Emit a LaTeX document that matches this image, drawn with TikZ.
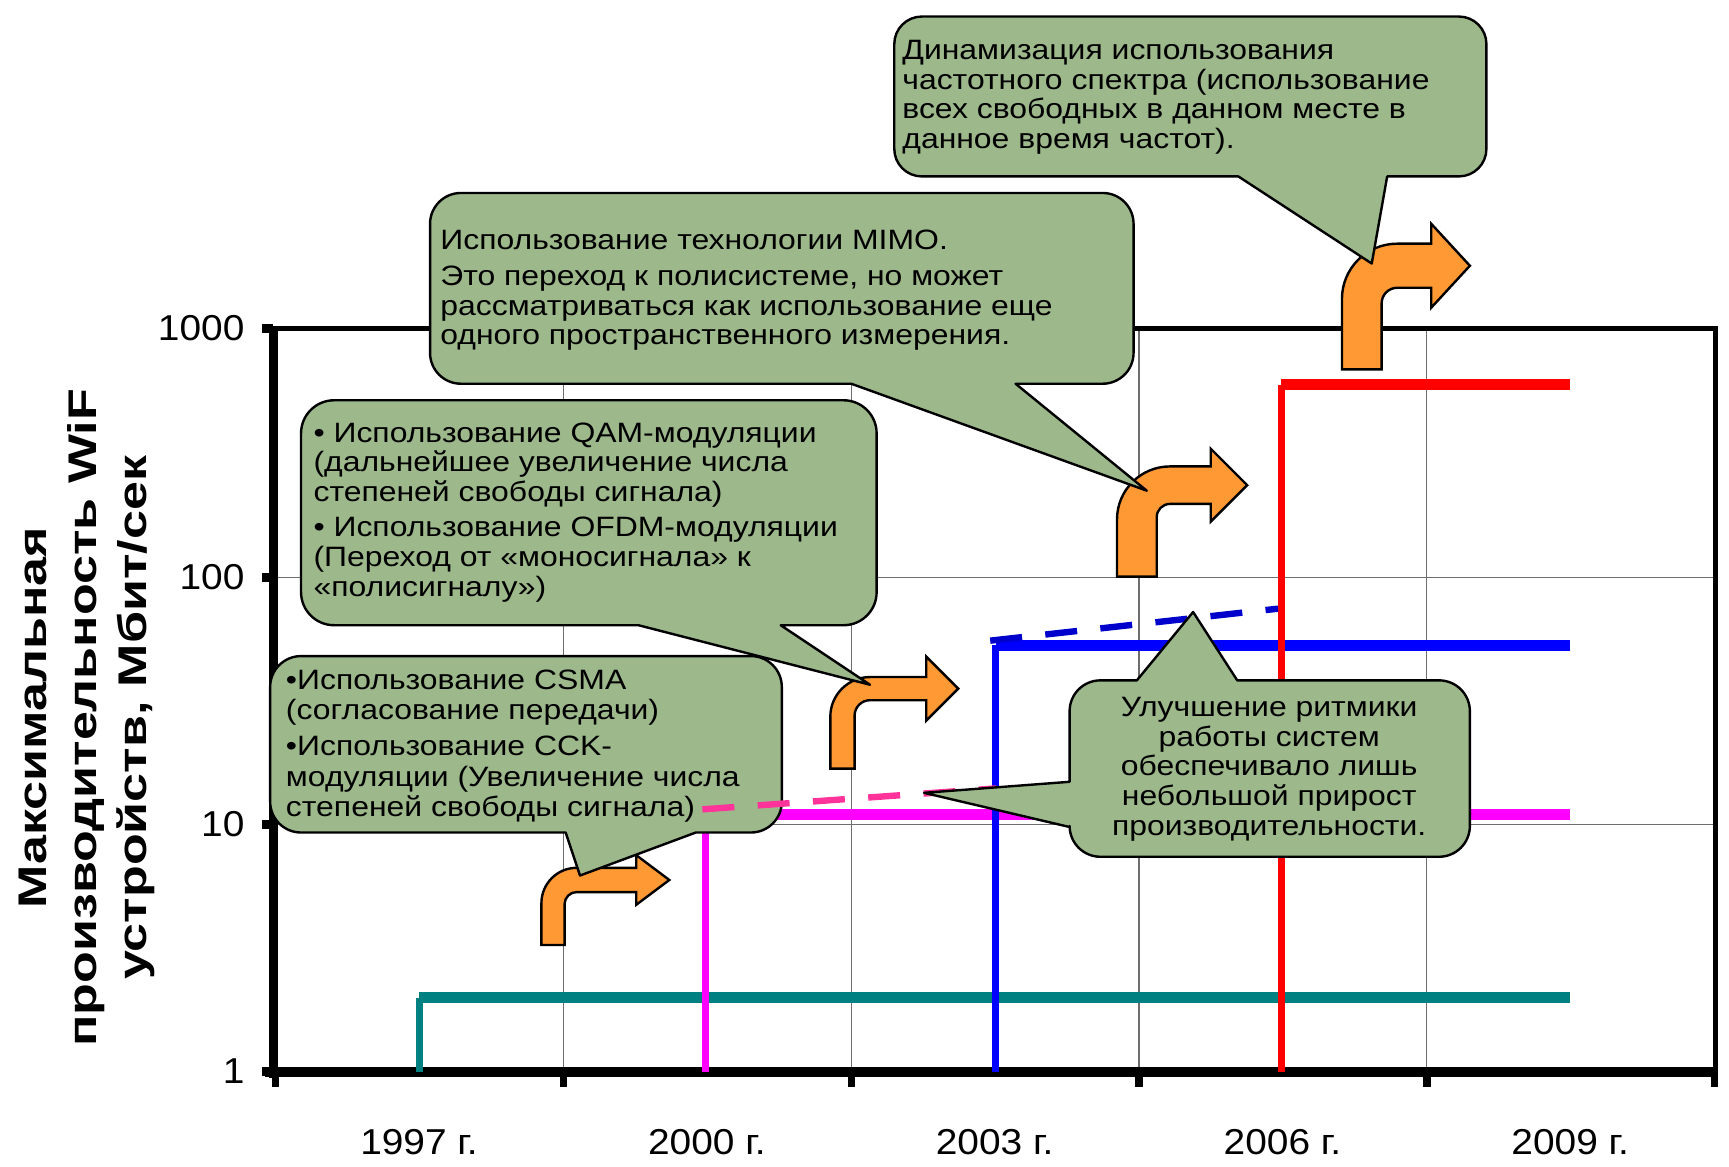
\documentclass[tikz,border=0pt]{standalone}
\usepackage{fontspec}
\setmainfont{Liberation Sans}
\newfontfamily\ytfont[FakeStretch=1.3]{Liberation Sans}
\newfontfamily\cfont[FakeStretch=1.14]{Liberation Sans}
\newfontfamily\tfont[FakeStretch=1.08]{Liberation Sans}
\definecolor{cgreen}{RGB}{157,184,139}
\definecolor{corange}{RGB}{255,153,51}
\definecolor{cteal}{RGB}{0,128,128}
\definecolor{cmag}{RGB}{255,0,255}
\definecolor{cblue}{RGB}{0,0,255}
\definecolor{cred}{RGB}{255,0,0}
\definecolor{cpink}{RGB}{255,51,153}
\definecolor{cdblue}{RGB}{0,0,204}
\definecolor{cgrid}{RGB}{110,110,110}
% rounded box (x1,y1)-(x2,y2), radius #5, pointer on bottom edge from #6..#7 to tip (#8,#9)
\newcommand\calloutbottom[9]{%
 \path[callout] (#1+#5,#2) -- (#3-#5,#2) .. controls (#3-0.448*#5,#2) and (#3,#2+0.448*#5) .. (#3,#2+#5)
  -- (#3,#4-#5) .. controls (#3,#4-0.448*#5) and (#3-0.448*#5,#4) .. (#3-#5,#4)
  -- (#7,#4) -- (#8,#9) -- (#6,#4)
  -- (#1+#5,#4) .. controls (#1+0.448*#5,#4) and (#1,#4-0.448*#5) .. (#1,#4-#5)
  -- (#1,#2+#5) .. controls (#1,#2+0.448*#5) and (#1+0.448*#5,#2) .. cycle;}
% bent arrow: xl xr yb yt ys R xh hh xt
\newcommand\bentarrow[9]{%
 \path[barrow] (#1,#3) -- (#1,#4+#6) .. controls (#1,#4+0.448*#6) and (#1+0.448*#6,#4) .. (#1+#6,#4)
  -- (#7,#4) -- (#7,{(#4+#5)/2-#8}) -- (#9,{(#4+#5)/2}) -- (#7,{(#4+#5)/2+#8}) -- (#7,#5)
  -- ({#6+#1},#5) .. controls ({#2+0.448*(#6-(#2-#1))},#5) and (#2,{#5+0.448*(#6-(#2-#1))}) .. (#2,{#5+#6-(#2-#1)})
  -- (#2,#3) -- cycle;}
\begin{document}
\begin{tikzpicture}[x=0.55135pt,y=-0.55135pt,
  callout/.style={fill=cgreen,draw=black,line width=1.2pt,line join=round},
  barrow/.style={fill=corange,draw=black,line width=1.2pt,line join=miter},
  grid/.style={draw=cgrid,line width=0.6pt},
  vser/.style={line width=3.5pt},
  hser/.style={line width=5.5pt},
  dser/.style={line width=3.2pt,dash pattern=on 16pt off 11.7pt},
  txt/.style={inner sep=0pt,font=\cfont\fontsize{14}{14.8}\selectfont},
  ticklbl/.style={inner sep=0pt,font=\tfont\fontsize{18}{20}\selectfont}]
\useasboundingbox (0,0) rectangle (1568,1058);
\fill[white] (0,0) rectangle (1568,1058);
% grid
\foreach \gx in {511,772,1033,1294} \draw[grid] (\gx,298) -- (\gx,972);
\foreach \gy in {524,748} \draw[grid] (248,\gy) -- (1556,\gy);
% frame and axes
\draw[line width=2.5pt] (248,298) -- (1556,298) -- (1556,972);
\draw[line width=4.5pt] (248,296) -- (248,978);
\draw[line width=5pt] (240,972) -- (1558,972);
\foreach \ty in {298,524,748,972} \draw[line width=4.5pt] (238,\ty) -- (248,\ty);
\foreach \tx in {250,511,772,1033,1294,1555} \draw[line width=3.7pt] (\tx,972) -- (\tx,986);
% tick labels
\node[ticklbl,anchor=base east] (y1000) at (222,309) {1000};
\node[ticklbl,anchor=base east] (y100) at (222,535) {100};
\node[ticklbl,anchor=base east] (y10) at (222,759) {10};
\node[ticklbl,anchor=base east] (y1) at (222,983) {1};
\node[ticklbl,anchor=base] (x1997) at (380,1047) {1997 г.};
\node[ticklbl,anchor=base] (x2000) at (641,1047) {2000 г.};
\node[ticklbl,anchor=base] (x2003) at (902,1047) {2003 г.};
\node[ticklbl,anchor=base] (x2006) at (1163,1047) {2006 г.};
\node[ticklbl,anchor=base] (x2009) at (1424,1047) {2009 г.};
\node[rotate=90,align=center,inner sep=0pt,font=\ytfont\bfseries\fontsize{20}{25}\selectfont] (ytitle) at (79,651)
  {Максимальная\\производительность WiF\\устройств, Мбит/сек};
% series
\draw[vser,cteal] (380,972) -- (380,905);
\draw[hser,cteal] (380,905) -- (1424,905);
\draw[vser,cmag] (640,972) -- (640,739);
\draw[hser,cmag] (640,739) -- (1424,739);
\draw[vser,cblue] (903,972) -- (903,585);
\draw[hser,cblue] (903,585) -- (1424,585);
\draw[vser,cred] (1162,972) -- (1162,349);
\draw[hser,cred] (1162,349) -- (1424,349);
% arrows
\bentarrow{491}{512}{857}{787}{809}{32}{577}{22.5}{607}
\bentarrow{753}{775}{697}{614}{635}{36}{840}{29}{869}
\bentarrow{1013}{1049}{523}{423}{457}{48}{1098}{33}{1131}
\bentarrow{1217}{1253}{335}{221}{261}{50}{1298}{38}{1333}
% callout 4
\calloutbottom{245}{595}{709}{755}{28}{513}{631}{526}{794}
\node[txt,anchor=base west,font=\cfont\fontsize{14}{15.2}\selectfont] (t4) at (259,625) {\parbox[t]{15cm}{\raggedright
 •Использование CSMA\\(согласование передачи)\\[3pt]•Использование CCK-\\модуляции (Увеличение числа\\степеней свободы сигнала)}};
% dashed trends
\draw[dser,cpink] (637,734) -- (903,715);
\draw[dser,cdblue] (898,581) -- (1159,552);
% callout 3
\calloutbottom{273}{363}{795}{567}{30}{579}{708}{789}{621}
\node[txt,anchor=base west] (t3) at (284,401) {\parbox[t]{15cm}{\raggedright
 • Использование QAM-модуляции\\(дальнейшее увеличение числа\\степеней свободы сигнала)\\[3pt]• Использование OFDM-модуляции\\(Переход от «моносигнала» к\\«полисигналу»)}};
% callout 2
\calloutbottom{390}{175}{1028}{348}{28}{772}{921}{1040}{445}
\node[txt,anchor=base west] (t2) at (399,226) {\parbox[t]{15cm}{\raggedright
 Использование технологии MIMO.\\[3.5pt]Это переход к полисистеме, но может\\рассматриваться как использование еще\\одного пространственного измерения.}};
% callout 1
\calloutbottom{811}{15}{1348}{160}{25}{1123}{1258}{1244}{239}
\node[txt,anchor=base west] (t1) at (818,54) {\parbox[t]{15cm}{\raggedright
 Динамизация использования\\частотного спектра (использование\\всех свободных в данном месте в\\данное время частот).}};
% callout 5 (two pointers)
\path[callout] (998,617) -- (1031,617) -- (1082,555) -- (1122,617) -- (1305,617)
  .. controls (1320.5,617) and (1333,629.5) .. (1333,645) -- (1333,749)
  .. controls (1333,764.5) and (1320.5,777) .. (1305,777) -- (998,777)
  .. controls (982.5,777) and (970,764.5) .. (970,749) -- (970,750) -- (838,719) -- (970,709)
  -- (970,645) .. controls (970,629.5) and (982.5,617) .. cycle;
\node[txt,anchor=base] (t5) at (1151,650) {\parbox[t]{8cm}{\centering
 Улучшение ритмики\\работы систем\\обеспечивало лишь\\небольшой прирост\\производительности.}};
\end{tikzpicture}
\end{document}
